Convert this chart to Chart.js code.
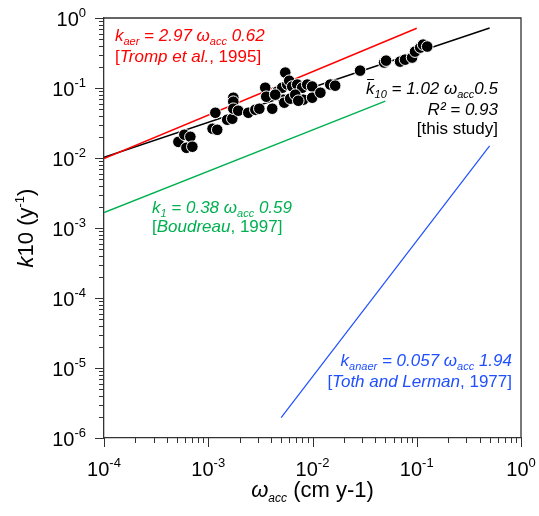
<!DOCTYPE html>
<html>
<head>
<meta charset="utf-8">
<script src="https://cdn.jsdelivr.net/npm/chart.js@4/dist/chart.umd.min.js"></script>
<style>
  html, body { margin: 0; padding: 0; background: #fff; }
  canvas { display: block; }
</style>
</head>
<body>
<canvas id="c" width="539" height="516"></canvas>
<script>
// Sediment accumulation rate (cm/y) and first-order decay constant k10 (1/y)
const accRate = [
  5.17e-4, 5.90e-4, 6.74e-4, 6.17e-4, 7.04e-4,
  1.10e-3, 1.22e-3, 1.17e-3, 1.52e-3, 1.70e-3,
  1.74e-3, 1.74e-3, 1.74e-3, 1.94e-3, 2.42e-3,
  2.83e-3, 3.09e-3, 3.52e-3, 3.60e-3, 4.11e-3,
  4.59e-3, 5.13e-3, 5.24e-3, 5.48e-3, 5.73e-3,
  5.98e-3, 5.36e-3, 6.11e-3, 6.39e-3, 7.14e-3,
  7.97e-3, 8.15e-3, 8.90e-3, 9.93e-3, 9.93e-3,
  0.0119, 0.0148, 0.0165, 0.0286, 0.0486,
  0.0508, 0.0692, 0.0772, 0.0902, 0.0963,
  0.108, 0.115, 0.126, 4.39e-3, 6.83e-3, 7.30e-3
];
const k10 = [
  0.0170, 0.0215, 0.0201, 0.0140, 0.0145,
  0.0262, 0.0253, 0.0443, 0.0352, 0.0364,
  0.0727, 0.0637, 0.0506, 0.0474, 0.0443,
  0.0489, 0.0506, 0.101, 0.0751, 0.0506,
  0.0886, 0.101, 0.0681, 0.166, 0.112,
  0.127, 0.0617, 0.0704, 0.105, 0.112,
  0.101, 0.0681, 0.112, 0.105, 0.0727,
  0.0857, 0.112, 0.108, 0.177, 0.231,
  0.246, 0.238, 0.254, 0.272, 0.331,
  0.378, 0.417, 0.391, 0.0803, 0.0803, 0.0658
];

// Power-law relations k = a * w^b
const fitNames  = ['Tromp et al. 1995', 'this study', 'Boudreau 1997', 'Toth and Lerman 1977'];
const fitCoef   = [2.97, 1.02, 0.38, 0.057];
const fitExp    = [0.62, 0.5, 0.59, 1.94];
const fitFrom   = [1e-4, 1e-4, 1e-4, 5e-3];
const fitTo     = [0.1, 0.5, 0.05, 0.5];
const fitColors = ['#ff0000', '#000000', '#00b050', '#1f4fff'];

// Axis decades (tick labels are 10^n)
const xDecades = [-4, -3, -2, -1, 0];
const yDecades = [-6, -5, -4, -3, -2, -1, 0];

const FONT = '"Liberation Sans", Arial, Helvetica, sans-serif';
const AXIS_COLOR = '#333333';

const points = accRate.map((x, i) => ({ x: x, y: k10[i] }));

const fitDatasets = fitNames.map((name, i) => ({
  label: name,
  data: [fitFrom[i], fitTo[i]].map(w => ({ x: w, y: fitCoef[i] * Math.pow(w, fitExp[i]) })),
  showLine: true,
  borderColor: fitColors[i],
  borderWidth: i === 3 ? 1.2 : 1.5,
  pointRadius: 0,
  fill: false,
  order: 1
}));

function fontOf(s) {
  return (s.it ? 'italic ' : '') + (s.sz || 17) + 'px ' + FONT;
}

// Draws a run of styled text pieces; returns x positions of each piece
function drawRich(ctx, segs, x, y, align, color) {
  let w = 0;
  segs.forEach(s => { ctx.font = fontOf(s); w += ctx.measureText(s.t).width; });
  let cx = align === 'right' ? x - w : align === 'center' ? x - w / 2 : x;
  ctx.textAlign = 'left';
  ctx.textBaseline = 'alphabetic';
  ctx.fillStyle = color;
  const pos = [];
  segs.forEach(s => {
    ctx.font = fontOf(s);
    ctx.fillText(s.t, cx, y + (s.dy || 0));
    pos.push(cx);
    cx += ctx.measureText(s.t).width;
  });
  return pos;
}

const sub = (t) => ({ t: t, it: true, sz: 11, dy: 4 });

const decor = {
  id: 'decor',
  afterDraw(chart) {
    const ctx = chart.ctx;
    const xs = chart.scales.x, ys = chart.scales.y;
    const a = chart.chartArea;
    ctx.save();

    // frame (top and right sides; left and bottom are the axis borders)
    ctx.strokeStyle = AXIS_COLOR;
    ctx.lineWidth = 1.3;
    ctx.beginPath();
    ctx.moveTo(a.left, a.top);
    ctx.lineTo(a.right, a.top);
    ctx.lineTo(a.right, a.bottom);
    ctx.stroke();

    // log tick marks, outward
    ctx.lineWidth = 1;
    ctx.beginPath();
    xDecades.forEach(d => {
      for (let m = 1; m <= 9; m++) {
        const v = m * Math.pow(10, d);
        if (v > 1.0000001) break;
        const px = Math.round(xs.getPixelForValue(v)) + 0.5;
        ctx.moveTo(px, a.bottom);
        ctx.lineTo(px, a.bottom + (m === 1 ? 9 : 5));
      }
    });
    yDecades.forEach(d => {
      for (let m = 1; m <= 9; m++) {
        const v = m * Math.pow(10, d);
        if (v > 1.0000001) break;
        const py = Math.round(ys.getPixelForValue(v)) + 0.5;
        ctx.moveTo(a.left, py);
        ctx.lineTo(a.left - (m === 1 ? 9 : 5), py);
      }
    });
    ctx.stroke();

    // tick labels 10^n
    xDecades.forEach(d => {
      const px = xs.getPixelForValue(Math.pow(10, d));
      const segs = [{ t: '10', sz: 20 }, { t: String(d), sz: 13, dy: -9 }];
      drawRich(ctx, segs, px, 476, 'center', '#000');
    });
    yDecades.forEach(d => {
      const py = ys.getPixelForValue(Math.pow(10, d));
      const segs = [{ t: '10', sz: 20 }, { t: String(d), sz: 13, dy: -9 }];
      drawRich(ctx, segs, 86, py + 8, 'right', '#000');
    });

    // axis titles
    drawRich(ctx, [
      { t: '\u03c9', it: true, sz: 22 },
      { t: 'acc', it: true, sz: 12, dy: 5 },
      { t: ' (cm y-1)', sz: 22 }
    ], (a.left + a.right) / 2, 497, 'center', '#000');

    ctx.save();
    ctx.translate(33, (a.top + a.bottom) / 2);
    ctx.rotate(-Math.PI / 2);
    drawRich(ctx, [
      { t: 'k', it: true, sz: 22 },
      { t: '10 (y', sz: 22 },
      { t: '-1', sz: 13, dy: -9 },
      { t: ')', sz: 22 }
    ], 0, 0, 'center', '#000');
    ctx.restore();

    // relation labels
    const red = fitColors[0], blk = fitColors[1], grn = fitColors[2], blu = fitColors[3];
    drawRich(ctx, [
      { t: 'k', it: true }, sub('aer'),
      { t: ' = ' + fitCoef[0] + ' \u03c9', it: true }, sub('acc'),
      { t: ' ' + fitExp[0], it: true }
    ], 115, 41, 'left', red);
    drawRich(ctx, [
      { t: '[' }, { t: 'Tromp et al.', it: true }, { t: ', 1995]' }
    ], 115, 62, 'left', red);

    const p = drawRich(ctx, [
      { t: 'k', it: true }, sub('10'),
      { t: ' = ' + fitCoef[1] + ' \u03c9', it: true }, sub('acc'),
      { t: String(fitExp[1]), it: true }
    ], 498, 94, 'right', blk);
    ctx.strokeStyle = blk;
    ctx.lineWidth = 1;
    ctx.beginPath();
    ctx.moveTo(p[0] + 1, 79.5);
    ctx.lineTo(p[0] + 8, 79.5);
    ctx.stroke();
    drawRich(ctx, [{ t: 'R\u00b2 = 0.93', it: true }], 498, 115, 'right', blk);
    drawRich(ctx, [{ t: '[this study]' }], 498, 134, 'right', blk);

    drawRich(ctx, [
      { t: 'k', it: true }, sub('1'),
      { t: ' = ' + fitCoef[2] + ' \u03c9', it: true }, sub('acc'),
      { t: ' ' + fitExp[2], it: true }
    ], 152, 213, 'left', grn);
    drawRich(ctx, [
      { t: '[' }, { t: 'Boudreau', it: true }, { t: ', 1997]' }
    ], 152, 232, 'left', grn);

    drawRich(ctx, [
      { t: 'k', it: true }, sub('anaer'),
      { t: ' = ' + fitCoef[3] + ' \u03c9', it: true }, sub('acc'),
      { t: ' ' + fitExp[3], it: true }
    ], 512, 366, 'right', blu);
    drawRich(ctx, [
      { t: '[' }, { t: 'Toth and Lerman', it: true }, { t: ', 1977]' }
    ], 512, 387, 'right', blu);

    ctx.restore();
  }
};

new Chart(document.getElementById('c'), {
  type: 'scatter',
  data: {
    datasets: [
      {
        label: 'k10',
        data: points,
        pointRadius: 5.8,
        pointHoverRadius: 5.8,
        backgroundColor: '#000000',
        borderColor: '#ffffff',
        borderWidth: 1,
        order: 0
      },
      ...fitDatasets
    ]
  },
  options: {
    responsive: false,
    animation: false,
    devicePixelRatio: 1,
    layout: { padding: { left: 104, right: 18, top: 18, bottom: 78 } },
    plugins: {
      legend: { display: false },
      tooltip: { enabled: false }
    },
    scales: {
      x: {
        type: 'logarithmic',
        min: 1e-4,
        max: 1,
        ticks: { display: false },
        grid: { display: false, drawTicks: false },
        border: { display: true, color: AXIS_COLOR, width: 1.3 }
      },
      y: {
        type: 'logarithmic',
        min: 1e-6,
        max: 1,
        ticks: { display: false },
        grid: { display: false, drawTicks: false },
        border: { display: true, color: AXIS_COLOR, width: 1.3 }
      }
    }
  },
  plugins: [decor]
});
</script>
</body>
</html>
